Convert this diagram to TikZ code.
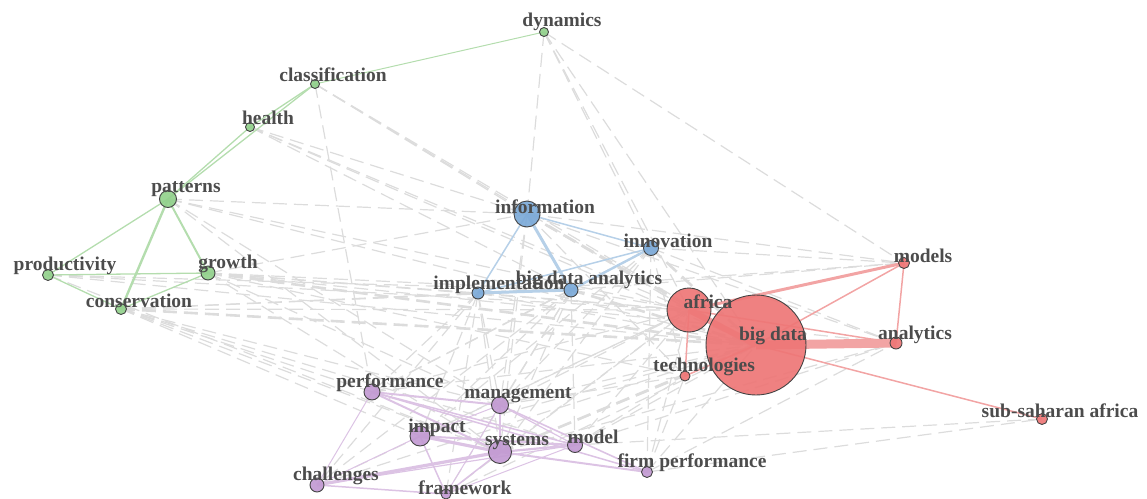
\documentclass[tikz,border=0pt]{standalone}
\usepackage{fontspec}
\setmainfont{Liberation Serif}
\usetikzlibrary{backgrounds}
\definecolor{gfill}{HTML}{92D18C}
\definecolor{bfill}{HTML}{7CAAD8}
\definecolor{rfill}{HTML}{EE7676}
\definecolor{pfill}{HTML}{C29AD2}
\definecolor{gedge}{HTML}{B4DDAE}
\definecolor{bedge}{HTML}{B6D0E8}
\definecolor{redge}{HTML}{F2A4A4}
\definecolor{pedge}{HTML}{DCC3E4}
\definecolor{grayedge}{HTML}{DCDCDC}
\definecolor{txt}{HTML}{4C4C4C}
\definecolor{bord}{HTML}{444444}
\tikzset{
  kw/.style={circle, draw=bord, line width=0.9pt, inner sep=0pt, fill opacity=0.92},
  gn/.style={kw, fill=gfill},
  bn/.style={kw, fill=bfill},
  rn/.style={kw, fill=rfill},
  pn/.style={kw, fill=pfill},
  lbl/.style={text=txt, font=\fontsize{19.5}{22}\selectfont\bfseries, inner sep=0pt},
  ge/.style={draw=grayedge, line width=1.2pt, dash pattern=on 14pt off 7pt},
  gethick/.style={ge, line width=2.6pt},
  gre/.style={draw=gedge, line width=1.3pt},
  ble/.style={draw=bedge, line width=1.5pt},
  rde/.style={draw=redge, line width=1.5pt},
  pue/.style={draw=pedge, line width=1.5pt},
}
\begin{document}
\begin{tikzpicture}[x=1pt,y=-1pt]
\useasboundingbox (0,0) rectangle (1147,498);
% green
\node[gn, minimum size=9pt] (dyn) at (544,32) {};
\node[gn, minimum size=9pt] (cla) at (315,84) {};
\node[gn, minimum size=9pt] (hea) at (250,127) {};
\node[gn, minimum size=17pt] (pat) at (168,199) {};
\node[gn, minimum size=11pt] (pro) at (48,275) {};
\node[gn, minimum size=14pt] (gro) at (208,273) {};
\node[gn, minimum size=11pt] (con) at (121,309) {};
% blue
\node[bn, minimum size=26pt] (inf) at (527,214) {};
\node[bn, minimum size=15pt] (inn) at (651,248) {};
\node[bn, minimum size=12pt] (imp) at (478,293) {};
\node[bn, minimum size=14pt] (bda) at (571,290) {};
% red
\node[rn, minimum size=44pt] (afr) at (689,310) {};
\node[rn, minimum size=100pt] (bd) at (756,345) {};
\node[rn, minimum size=11pt] (mods) at (904,263) {};
\node[rn, minimum size=12pt] (ana) at (896,343) {};
\node[rn, minimum size=10pt] (tec) at (685,376) {};
\node[rn, minimum size=11pt] (ssa) at (1042,419) {};
% purple
\node[pn, minimum size=16pt] (per) at (372,392) {};
\node[pn, minimum size=17pt] (man) at (500,405) {};
\node[pn, minimum size=20pt] (ipc) at (420,436) {};
\node[pn, minimum size=23pt] (sys) at (500,452) {};
\node[pn, minimum size=15pt] (mod) at (575,445) {};
\node[pn, minimum size=11pt] (fp) at (647,472) {};
\node[pn, minimum size=14pt] (cha) at (317,485) {};
\node[pn, minimum size=10pt] (fra) at (446,494) {};

\begin{scope}[on background layer]
% gray dashed links
\foreach \a/\b in {dyn/inf, dyn/inn, dyn/mods, dyn/bd, dyn/afr,
  cla/per, cla/bd, cla/afr, cla/inf,
  hea/bd, hea/afr, hea/bda, hea/inf,
  pat/bd, pat/afr, pat/inf, pat/sys, pat/man,
  gro/afr, gro/bda, gro/imp, gro/inf, gro/man, gro/tec, gro/sys, gro/ana,
  pro/bd, pro/afr, pro/sys, pro/bda,
  con/afr, con/man, con/sys, con/bda, con/imp, con/mod, con/ipc, con/per,
  inf/afr, inf/ana, inf/mods, inf/sys, inf/man, inf/tec,
  inn/mods, inn/ana, inn/sys, inn/tec, inn/man, inn/ipc,
  imp/bd, imp/sys, imp/man, imp/ipc, imp/afr, imp/cha, imp/fra, imp/per,
  bda/afr, bda/sys, bda/man, bda/mod, bda/ipc, bda/fra, bda/cha, bda/per, bda/mods,
  per/bd, per/afr, per/inn,
  man/bd, man/afr, man/tec,
  ipc/bd, ipc/afr,
  sys/afr, sys/tec, sys/ana,
  mod/bd, mod/afr, mod/ana, mod/tec,
  fp/bd, fp/afr, fp/tec, fp/inn, fp/ssa, fp/ana,
  cha/bd, cha/afr,
  fra/bd, fra/afr,
  ssa/mod, mods/imp}
  \draw[ge] (\a.center) -- (\b.center);
\foreach \a/\b in {gro/bd, inf/bd, inn/bd, bda/bd, sys/bd, con/bd}
  \draw[gethick] (\a.center) -- (\b.center);
% green
\draw[gre, line width=1pt] (dyn.center) -- (cla.center);
\draw[gre] (cla.center) -- (hea.center);
\draw[gre] (cla.center) -- (pat.center);
\draw[gre] (hea.center) -- (pat.center);
\draw[gre] (pat.center) -- (pro.center);
\draw[gre, line width=2.4pt] (pat.center) -- (con.center);
\draw[gre, line width=2pt] (pat.center) -- (gro.center);
\draw[gre] (pro.center) -- (gro.center);
\draw[gre] (pro.center) -- (con.center);
\draw[gre] (con.center) -- (gro.center);
% blue
\draw[ble] (inf.center) -- (imp.center);
\draw[ble, line width=3pt] (inf.center) -- (bda.center);
\draw[ble] (inf.center) -- (inn.center);
\draw[ble, line width=3pt] (imp.center) -- (bda.center);
\draw[ble] (imp.center) -- (inn.center);
\draw[ble, line width=2.4pt] (bda.center) -- (inn.center);
% red
\draw[rde, line width=9pt] (bd.center) -- (ana.center);
\draw[rde, line width=3pt] (afr.center) -- (mods.center);
\draw[rde] (bd.center) -- (mods.center);
\draw[rde] (afr.center) -- (ana.center);
\draw[rde] (bd.center) -- (ssa.center);
\draw[rde] (mods.center) -- (ana.center);
\draw[rde] (afr.center) -- (tec.center);
\draw[rde, line width=6pt] (afr.center) -- (bd.center);
\draw[rde] (bd.center) -- (tec.center);
% purple
\foreach \a/\b/\w in {per/man/2, per/sys/2, per/mod/1.5, per/fp/1.5, per/cha/1,
  man/sys/2.2, man/fra/1, man/fp/1.6, man/mod/1.2, ipc/sys/3.2, ipc/mod/2,
  ipc/fra/1.5, ipc/cha/1, sys/cha/3.2, sys/mod/2.2, sys/fp/2, cha/fra/1.5,
  fra/mod/1, fra/sys/1.5, cha/mod/1.2, ipc/man/1}
  \draw[pue, line width=\w pt] (\a.center) -- (\b.center);
\end{scope}

% labels
\node[lbl] (dynL) at (562,22) {dynamics};
\node[lbl] (claL) at (333,75) {classification};
\node[lbl] (heaL) at (268,118) {health};
\node[lbl] (patL) at (186,189) {patterns};
\node[lbl] (proL) at (65,266) {productivity};
\node[lbl] (groL) at (228,264) {growth};
\node[lbl] (conL) at (139,301) {conservation};
\node[lbl] (infL) at (545,207) {information};
\node[lbl] (innL) at (668,241) {innovation};
\node[lbl] (impL) at (499,285) {implementation};
\node[lbl] (bdaL) at (589,280) {big data analytics};
\node[lbl] (afrL) at (708,302) {africa};
\node[lbl] (bdL) at (773,336) {big data};
\node[lbl] (modsL) at (923,256) {models};
\node[lbl] (anaL) at (915,335) {analytics};
\node[lbl] (tecL) at (704,367) {technologies};
\node[lbl] (ssaL) at (1060,411) {sub-saharan africa};
\node[lbl] (perL) at (390,383) {performance};
\node[lbl] (manL) at (518,395) {management};
\node[lbl] (ipcL) at (437,428) {impact};
\node[lbl] (sysL) at (517,442) {systems};
\node[lbl] (modL) at (593,437) {model};
\node[lbl] (fpL) at (692,463) {firm performance};
\node[lbl] (chaL) at (336,476) {challenges};
\node[lbl] (fraL) at (465,488) {framework};
\end{tikzpicture}
\end{document}
